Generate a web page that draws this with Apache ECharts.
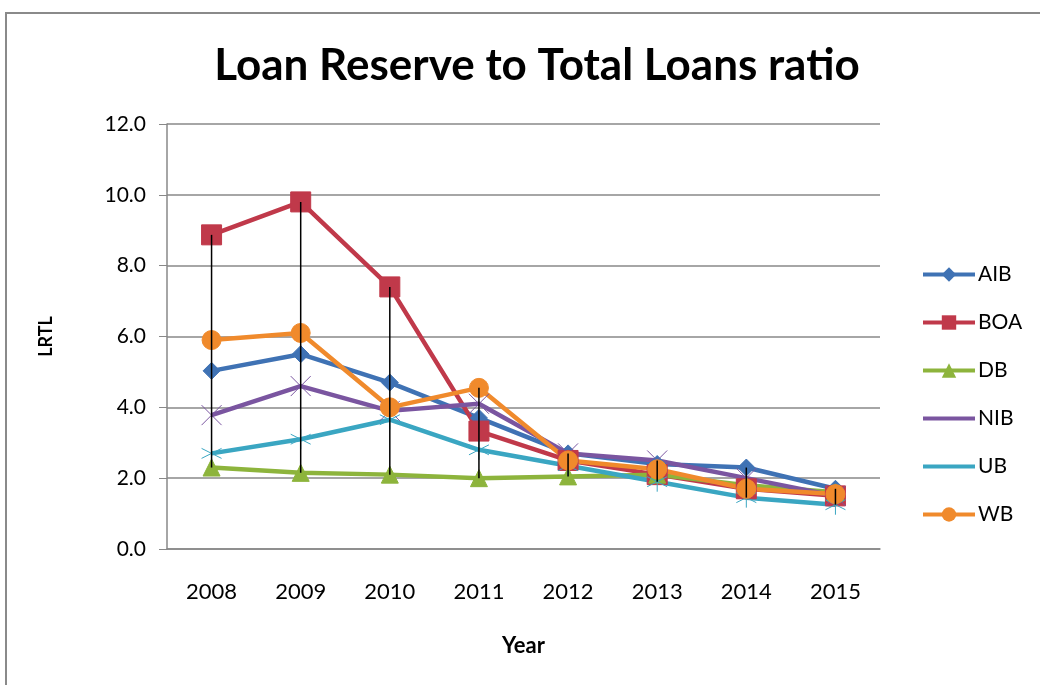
<!DOCTYPE html>
<html>
<head>
<meta charset="utf-8">
<script src="https://cdn.jsdelivr.net/npm/echarts@6/dist/echarts.min.js"></script>
<style>
  html, body { margin: 0; padding: 0; background: #fff; }
  #frame { position: absolute; left: 5px; top: 12px; width: 1100px; height: 700px; border: 2px solid #8a8a8a; box-sizing: border-box; }
  #chart { position: absolute; left: 0; top: 0; width: 1040px; height: 685px; }
</style>
</head>
<body>
<div id="frame"></div>
<div id="chart"></div>
<script>
  // categories and values
  const years = ["2008", "2009", "2010", "2011", "2012", "2013", "2014", "2015"];
  const aib = [5.03, 5.5, 4.7, 3.7, 2.7, 2.4, 2.3, 1.7];
  const boa = [8.87, 9.8, 7.4, 3.33, 2.5, 2.1, 1.7, 1.5];
  const db  = [2.3, 2.15, 2.1, 2.0, 2.05, 2.1, 1.8, 1.6];
  const nib = [3.78, 4.6, 3.9, 4.1, 2.7, 2.5, 2.0, 1.5];
  const ub  = [2.7, 3.1, 3.65, 2.8, 2.35, 1.9, 1.45, 1.25];
  const wb  = [5.9, 6.1, 4.0, 4.55, 2.5, 2.25, 1.7, 1.55];
  const yTicks = [0, 2, 4, 6, 8, 10, 12];

  const all = [aib, boa, db, nib, ub, wb];
  // high-low line data: [index, max, min] for each year
  const hiLo = years.map((y, i) => {
    const vals = all.map(s => s[i]);
    return [i, Math.max(...vals), Math.min(...vals)];
  });

  const font = "Lato, 'Liberation Sans', sans-serif";

  function lineSeries(name, data, color, symbol, size) {
    return {
      name: name,
      type: "line",
      data: data,
      symbol: symbol,
      symbolSize: size,
      lineStyle: { color: color, width: 4.5 },
      itemStyle: { color: color, borderColor: color },
      z: 3
    };
  }

  const chart = echarts.init(document.getElementById("chart"));
  chart.setOption({
    animation: false,
    title: {
      text: "Loan Reserve to Total Loans ratio",
      left: 532,
      top: 39,
      textAlign: "center",
      textStyle: { fontFamily: font, fontSize: 44, fontWeight: "bold", color: "#000" }
    },
    grid: { left: 167, right: 160, top: 124, bottom: 136 },
    legend: {
      orient: "vertical",
      left: 916,
      top: 259,
      itemWidth: 52,
      itemHeight: 18,
      itemGap: 27,
      lineStyle: { width: 4 },
      textStyle: { fontFamily: font, fontSize: 21, color: "#000", padding: [0, 0, 0, -2] },
      data: ["AIB", "BOA", "DB", "NIB", "UB", "WB"]
    },
    xAxis: {
      type: "category",
      data: years,
      boundaryGap: true,
      name: "Year",
      nameLocation: "middle",
      nameGap: 86,
      nameTextStyle: { fontFamily: font, fontSize: 22, fontWeight: "bold", color: "#000" },
      axisLine: { lineStyle: { color: "#888", width: 1.5 } },
      axisTick: { show: false },
      axisLabel: { fontFamily: font, fontSize: 22, color: "#000", margin: 32 }
    },
    yAxis: {
      type: "value",
      min: yTicks[0],
      max: yTicks[yTicks.length - 1],
      interval: 2,
      name: "LRTL",
      nameLocation: "middle",
      nameGap: 112,
      nameRotate: 90,
      nameTextStyle: { fontFamily: font, fontSize: 18, fontWeight: "bold", color: "#000" },
      axisLine: { show: true, lineStyle: { color: "#888", width: 1.5 } },
      axisTick: { show: true, length: 8, lineStyle: { color: "#888" } },
      splitLine: { lineStyle: { color: "#888", width: 1.5 } },
      axisLabel: { fontFamily: font, fontSize: 21, color: "#000", margin: 21, formatter: v => v.toFixed(1) }
    },
    series: [
      {
        type: "custom",
        data: hiLo,
        z: 4,
        silent: true,
        renderItem: function (params, api) {
          const top = api.coord([api.value(0), api.value(1)]);
          const bot = api.coord([api.value(0), api.value(2)]);
          return {
            type: "line",
            shape: { x1: top[0], y1: top[1], x2: bot[0], y2: bot[1] },
            style: { stroke: "#000", lineWidth: 1.5 }
          };
        }
      },
      lineSeries("AIB", aib, "#3f72b4", "diamond", 17),
      lineSeries("BOA", boa, "#c0394a", "rect", 20),
      lineSeries("DB", db, "#8db43c", "triangle", 17),
      lineSeries("NIB", nib, "#7a55a0", "path://M0,0L10,10M10,0L0,10", 20),
      lineSeries("UB", ub, "#3aa6c2", "path://M5,0L5,10M0,2.5L10,7.5M0,7.5L10,2.5", 20),
      lineSeries("WB", wb, "#f08a2c", "circle", 19)
    ]
  });
</script>
</body>
</html>
